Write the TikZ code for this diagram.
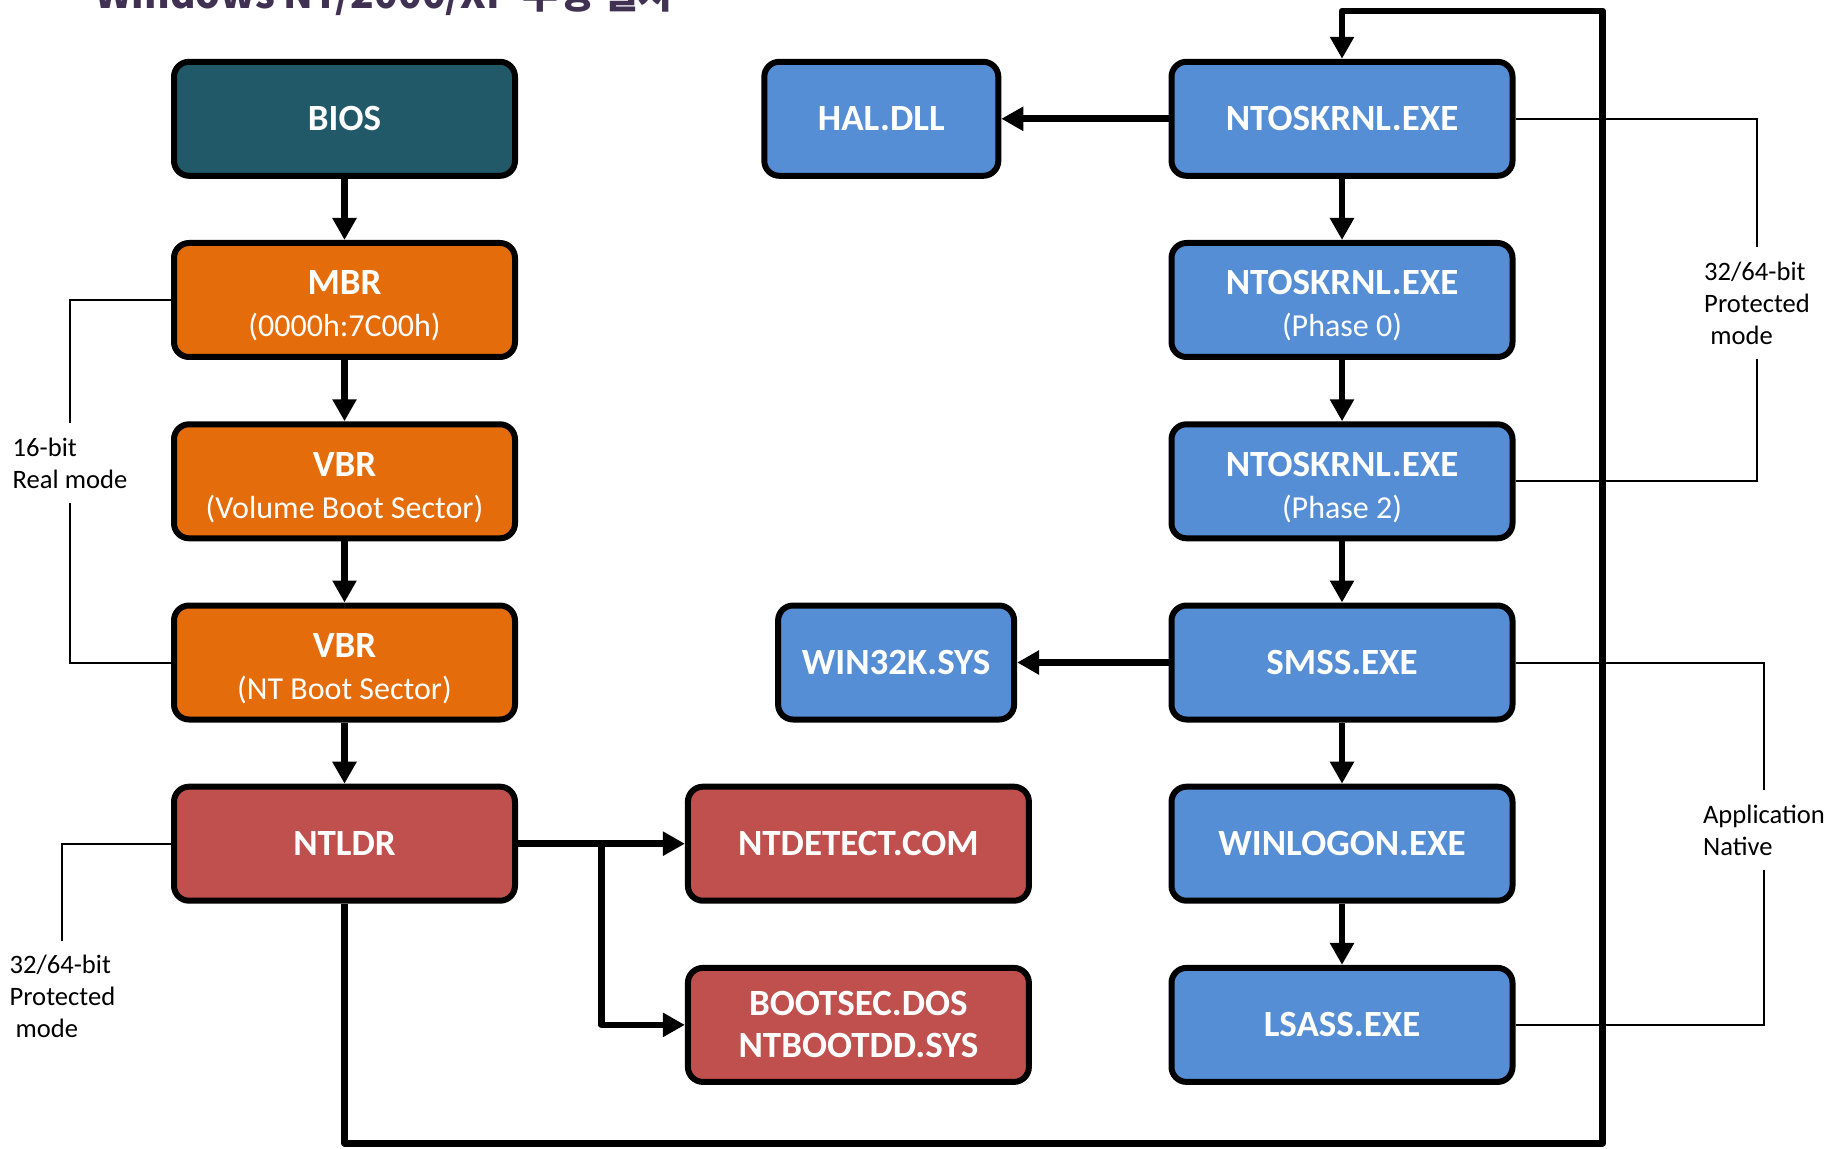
\documentclass[tikz,border=0pt]{standalone}
\usepackage{fontspec}
\setmainfont{Carlito}
\newfontfamily\krfont{Noto Sans CJK KR}
\usetikzlibrary{arrows.meta}
\definecolor{biosteal}{RGB}{33,89,104}
\definecolor{bootorange}{RGB}{228,108,10}
\definecolor{ldrred}{RGB}{192,80,77}
\definecolor{kernblue}{RGB}{85,142,213}
\definecolor{titlepurple}{RGB}{64,49,82}
\newcommand{\topline}[1]{\rule{0pt}{18pt}\textbf{#1}}
\newcommand{\subline}[1]{{\fontsize{16}{20.5}\selectfont #1}}
\tikzset{
  box/.style={draw=black,line width=3pt,rounded corners=7.5pt,minimum width=170.5pt,minimum height=57pt,
    text=white,align=center,inner sep=2pt,font=\fontsize{18.5}{21}\selectfont},
  flow/.style={line width=3.3pt,line join=round,-{Triangle[length=11pt,width=11.5pt]}},
  bracket/.style={line width=1pt},
  mode/.style={align=left,inner xsep=0pt,inner ysep=7pt,font=\fontsize{13.3}{16}\selectfont},
}
\begin{document}
\begin{tikzpicture}[x=0.5pt,y=-0.5pt]
\useasboundingbox (0,0) rectangle (1845,1149);
% 제목
\node[anchor=base west,inner sep=0pt,text=titlepurple,font=\krfont\bfseries\fontsize{19.5}{22}\selectfont] (title) at (95,9) {Windows NT/2000/XP 부팅 절차};
% 왼쪽 열
\node[box,fill=biosteal] (bios) at (344.5,118.8) {\textbf{BIOS}};
\node[box,fill=bootorange] (mbr) at (344.5,300) {\topline{MBR}\\\subline{(0000h:7C00h)}};
\node[box,fill=bootorange] (vbr) at (344.5,481.3) {\topline{VBR}\\\subline{(Volume Boot Sector)}};
\node[box,fill=bootorange] (ntvbr) at (344.5,662.5) {\topline{VBR}\\\subline{(NT Boot Sector)}};
\node[box,fill=ldrred] (ntldr) at (344.5,843.7) {\textbf{NTLDR}};
% 가운데
\node[box,fill=kernblue,minimum width=117pt] (hal) at (881.3,118.8) {\textbf{HAL.DLL}};
\node[box,fill=kernblue,minimum width=118pt] (win32k) at (896.1,662.5) {\textbf{WIN32K.SYS}};
\node[box,fill=ldrred] (ntdetect) at (858.4,843.7) {\textbf{NTDETECT.COM}};
\node[box,fill=ldrred] (bootsec) at (858.4,1024.9) {\textbf{BOOTSEC.DOS}\\\textbf{NTBOOTDD.SYS}};
% 오른쪽 열
\node[box,fill=kernblue] (kernel) at (1342,118.8) {\textbf{NTOSKRNL.EXE}};
\node[box,fill=kernblue] (phase0) at (1342,300) {\topline{NTOSKRNL.EXE}\\\subline{(Phase 0)}};
\node[box,fill=kernblue] (phase2) at (1342,481.3) {\topline{NTOSKRNL.EXE}\\\subline{(Phase 2)}};
\node[box,fill=kernblue] (smss) at (1342,662.5) {\textbf{SMSS.EXE}};
\node[box,fill=kernblue] (winlogon) at (1342,843.7) {\textbf{WINLOGON.EXE}};
\node[box,fill=kernblue] (lsass) at (1342,1024.9) {\textbf{LSASS.EXE}};
% 모드
\node[mode] (real) at (70,463) {16-bit\\Real mode};
\node[mode] (prot) at (62.4,996.5) {32/64-bit\\Protected\\\ mode};
\node[mode] (protr) at (1757,303) {32/64-bit\\Protected\\\ mode};
\node[mode] (app) at (1764,830) {Application\\Native};
\draw[bracket] (mbr.west) -| (real.north);
\draw[bracket] (real.south) |- (ntvbr.west);
\draw[bracket] (ntldr.west) -| (prot.north);
\draw[bracket] (kernel.east) -| (protr.north);
\draw[bracket] (protr.south) |- (phase2.east);
\draw[bracket] (smss.east) -| (app.north);
\draw[bracket] (app.south) |- (lsass.east);
% 화살표
\draw[flow] (bios) -- (mbr);
\draw[flow] (mbr) -- (vbr);
\draw[flow] (vbr) -- (ntvbr);
\draw[flow] (ntvbr) -- (ntldr);
\draw[flow] (ntldr) -- (ntdetect);
\coordinate (split) at (601.3,843.7);
\draw[flow] (split) |- (bootsec.west);
\draw[flow] (kernel) -- (hal);
\draw[flow] (kernel) -- (phase0);
\draw[flow] (phase0) -- (phase2);
\draw[flow] (phase2) -- (smss);
\draw[flow] (smss) -- (win32k);
\draw[flow] (smss) -- (winlogon);
\draw[flow] (winlogon) -- (lsass);
% 되돌아가는 선
\coordinate (loopse) at (1602.7,1143.3);
\coordinate (loopne) at (1602.7,11);
\draw[flow] (ntldr.south) |- (loopse) -- (loopne) -| (kernel.north);
\end{tikzpicture}
\end{document}
